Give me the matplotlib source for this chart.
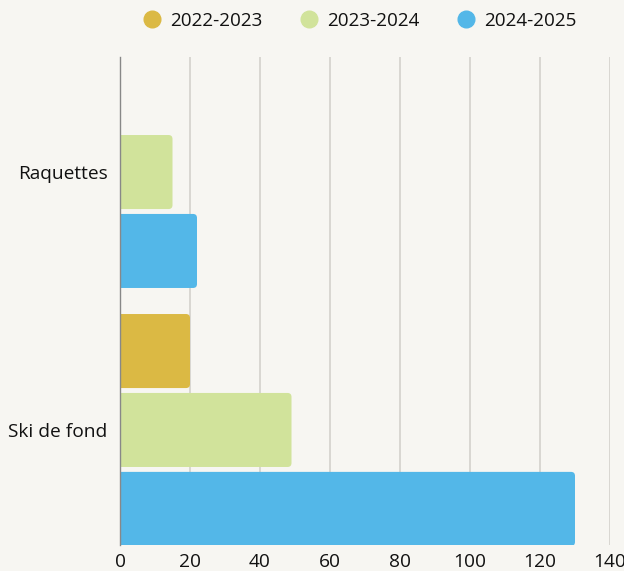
import matplotlib.pyplot as plt
import numpy as np
from matplotlib.lines import Line2D
from matplotlib.patches import FancyBboxPatch

plt.rcParams['font.family'] = ['Open Sans', 'DejaVu Sans']

categories = ["Raquettes", "Ski de fond"]
seasons = ["2022-2023", "2023-2024", "2024-2025"]
values_2022 = [0, 20]
values_2023 = [15, 49]
values_2024 = [22, 130]
colors = ["#dbb944", "#d1e39b", "#53b7e8"]
xticks = [0, 20, 40, 60, 80, 100, 120, 140]

bg = "#f7f6f2"
fig = plt.figure(figsize=(6.24, 5.71), dpi=100, facecolor=bg)
ax = fig.add_axes([120 / 624, 26 / 571, 490 / 624, 488 / 571], facecolor=bg)
ax.set_xlim(0, 140)
ax.set_ylim(1.446, -0.446)

y = np.arange(len(categories))
slot = 0.306
# rounded corners: radius ~4px expressed in x data units, aspect to y units
rad = 4 * 140 / 490
aspect = (1.892 / 488) / (140 / 490)
for i, (vals, col) in enumerate(zip([values_2022, values_2023, values_2024], colors)):
    vals = np.array(vals, dtype=float)
    mask = vals > 0
    bars = ax.barh(y[mask] + (i - 1) * slot, vals[mask], height=0.287, color=col, zorder=3)
    for r in bars:
        r.set_visible(False)
        p = FancyBboxPatch((r.get_x() - rad, r.get_y()), r.get_width() + rad, r.get_height(),
                           boxstyle=f"round,pad=0,rounding_size={rad}",
                           mutation_aspect=aspect, facecolor=col, edgecolor="none", zorder=3)
        ax.add_patch(p)

ax.set_xticks(xticks)
ax.set_yticks(y)
ax.set_yticklabels(categories)
ax.tick_params(length=0, labelsize=13.8, colors="#111111", pad=6)
ax.tick_params(axis="y", pad=9)
ax.grid(axis="x", color="#d3d1cc", linewidth=1.2, zorder=0)
for s in ["top", "right", "bottom"]:
    ax.spines[s].set_visible(False)
ax.spines["left"].set_color("#888888")
ax.spines["left"].set_linewidth(1)
ax.spines["left"].set_zorder(4)

handles = [Line2D([0], [0], marker="o", linestyle="", markersize=12,
                  markerfacecolor=c, markeredgecolor=c) for c in colors]
fig.legend(handles, seasons, loc="center", bbox_to_anchor=(360 / 624, 1 - 21 / 571),
           ncol=3, frameon=False, fontsize=13.6, handletextpad=0.5, columnspacing=2.0,
           handlelength=0.9, labelcolor="#111111")

fig.savefig("out.png", dpi=100, facecolor=bg)
